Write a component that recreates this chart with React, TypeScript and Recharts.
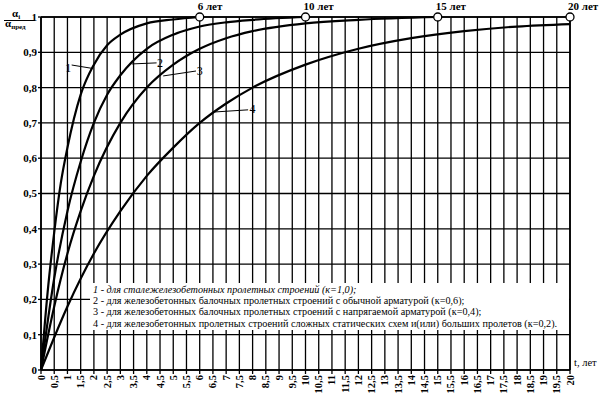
import { ComposedChart, Line, Scatter, XAxis, YAxis, CartesianGrid, ReferenceLine, ReferenceDot } from "recharts";

const SERIF = '"Liberation Serif", "Times New Roman", serif';

// curve 1 - steel-concrete spans (k=1,0)
const T1 = [0, 0.25, 0.5, 0.75, 1, 1.5, 2, 2.5, 3, 4, 5, 6];
const V1 = [0, 0.22, 0.39, 0.53, 0.63, 0.78, 0.865, 0.92, 0.95, 0.982, 0.993, 1.0];
// curve 2 - RC beam spans, ordinary reinforcement (k=0,6)
const T2 = [0, 0.5, 1, 1.5, 2, 2.5, 3, 4, 5, 6, 7, 8, 10];
const V2 = [0, 0.26, 0.45, 0.59, 0.7, 0.78, 0.835, 0.91, 0.95, 0.973, 0.985, 0.992, 1.0];
// curve 3 - RC beam spans, prestressed (k=0,4)
const T3 = [0, 0.5, 1, 1.5, 2, 3, 4, 5, 6, 7, 8, 10, 12, 15];
const V3 = [0, 0.18, 0.33, 0.45, 0.55, 0.7, 0.8, 0.865, 0.91, 0.94, 0.96, 0.982, 0.992, 1.0];
// curve 4 - complex schemes / large spans (k=0,2)
const T4 = [0, 1, 2, 3, 4, 5, 6, 7, 8, 10, 12, 14, 16, 18, 20];
const V4 = [0, 0.18, 0.33, 0.45, 0.55, 0.63, 0.7, 0.755, 0.8, 0.865, 0.91, 0.94, 0.96, 0.973, 0.98];

const MILESTONE_T = [6, 10, 15, 20];
const MILESTONE_LABELS = ["6 лет", "10 лет", "15 лет", "20 лет"];

const X_TICKS = [
  0, 0.5, 1, 1.5, 2, 2.5, 3, 3.5, 4, 4.5, 5, 5.5, 6, 6.5, 7, 7.5, 8, 8.5, 9, 9.5, 10,
  10.5, 11, 11.5, 12, 12.5, 13, 13.5, 14, 14.5, 15, 15.5, 16, 16.5, 17, 17.5, 18, 18.5, 19, 19.5, 20,
];
const Y_TICKS = [0, 0.1, 0.2, 0.3, 0.4, 0.5, 0.6, 0.7, 0.8, 0.9, 1];

// curve number labels and their leader lines (data coords)
const CURVE_NAMES = ["1", "2", "3", "4"];
const NAME_T = [1.03, 4.5, 6.0, 8.0];
const NAME_V = [0.856, 0.869, 0.847, 0.739];
const LEADER_FROM = [
  { t: 1.16, v: 0.864 },
  { t: 3.43, v: 0.867 },
  { t: 4.62, v: 0.833 },
  { t: 6.58, v: 0.731 },
];
const LEADER_TO = [
  { t: 1.97, v: 0.854 },
  { t: 4.37, v: 0.87 },
  { t: 5.86, v: 0.847 },
  { t: 7.83, v: 0.737 },
];

const LEGEND_LINES = [
  "1 - для сталежелезобетонных пролетных строений (к=1,0);",
  "2 - для железобетонных балочных пролетных строений с обычной арматурой (к=0,6);",
  "3 - для железобетонных балочных пролетных строений с напрягаемой арматурой (к=0,4);",
  "4 - для железобетонных пролетных строений сложных статических схем и(или) больших пролетов (к=0,2).",
];

const toPoints = (ts: number[], vs: number[]) => ts.map((t, i) => ({ t, v: vs[i] }));
const SERIES = [toPoints(T1, V1), toPoints(T2, V2), toPoints(T3, V3), toPoints(T4, V4)];
const MILESTONES = MILESTONE_T.map((t, i) => ({ t, v: 1, label: MILESTONE_LABELS[i] }));

const fmt = (v: number) => String(v).replace(".", ",");

function XTick(props: any) {
  const { x, y, payload } = props;
  return (
    <g transform={`translate(${x},${y})`}>
      <text
        transform="rotate(-90)"
        x={0}
        y={3.5}
        textAnchor="end"
        fontSize={10.5}
        fontWeight="bold"
        fontFamily={SERIF}
        fill="#000"
      >
        {fmt(payload.value)}
      </text>
    </g>
  );
}

function Milestone(props: any) {
  const { cx, cy, payload } = props;
  return (
    <g>
      <circle cx={cx} cy={cy} r={4} fill="#fff" stroke="#000" strokeWidth={1.3} />
      <text x={cx - 2} y={cy - 7} fontSize={11} fontWeight="bold" fontFamily={SERIF} fill="#000">
        {payload.label}
      </text>
    </g>
  );
}

export default function App() {
  return (
    <div style={{ position: "absolute", left: 0, top: 0, width: 602, height: 396, background: "#fff" }}>
      <ComposedChart width={602} height={396} margin={{ top: 17, right: 32, bottom: 0, left: 0 }}>
        <CartesianGrid stroke="#000" strokeWidth={1.3} />
        <XAxis
          type="number"
          dataKey="t"
          domain={[0, 20]}
          ticks={X_TICKS}
          interval={0}
          height={26}
          tickSize={4}
          tickMargin={1}
          tick={(p: any) => <XTick {...p} />}
          axisLine={{ stroke: "#000", strokeWidth: 1.7 }}
          tickLine={{ stroke: "#000", strokeWidth: 1.3 }}
        />
        <YAxis
          type="number"
          domain={[0, 1]}
          ticks={Y_TICKS}
          interval={0}
          width={41}
          tickSize={3}
          tickMargin={1}
          tickFormatter={fmt}
          tick={{ fill: "#000", fontSize: 11, fontWeight: "bold", fontFamily: SERIF }}
          axisLine={{ stroke: "#000", strokeWidth: 1.7 }}
          tickLine={{ stroke: "#000", strokeWidth: 1.3 }}
        />
        <ReferenceLine y={1} stroke="#000" strokeWidth={1.7} />
        <ReferenceLine x={20} stroke="#000" strokeWidth={1.7} />
        {SERIES.map((data, i) => (
          <Line
            key={i}
            data={data}
            dataKey="v"
            type="monotone"
            stroke="#000"
            strokeWidth={2.2}
            dot={false}
            isAnimationActive={false}
          />
        ))}
        {LEADER_FROM.map((a, i) => (
          <ReferenceLine
            key={`l${i}`}
            segment={[
              { x: a.t, y: a.v },
              { x: LEADER_TO[i].t, y: LEADER_TO[i].v },
            ]}
            stroke="#000"
            strokeWidth={1}
          />
        ))}
        {CURVE_NAMES.map((name, i) => (
          <ReferenceDot
            key={`n${i}`}
            x={NAME_T[i]}
            y={NAME_V[i]}
            r={0}
            shape={(p: any) => (
              <text
                x={p.cx}
                y={p.cy}
                textAnchor="middle"
                dominantBaseline="central"
                fontSize={12}
                fontFamily={SERIF}
                fill="#000"
              >
                {name}
              </text>
            )}
          />
        ))}
        <Scatter data={MILESTONES} dataKey="v" shape={(p: any) => <Milestone {...p} />} isAnimationActive={false} />
      </ComposedChart>

      <div
        style={{
          position: "absolute",
          left: 90,
          top: 283,
          width: 479,
          height: 47,
          background: "#fff",
          fontFamily: SERIF,
          fontSize: 10.2,
          lineHeight: "11.2px",
          color: "#000",
          paddingLeft: 3,
          paddingTop: 1,
          boxSizing: "border-box",
          whiteSpace: "nowrap",
        }}
      >
        {LEGEND_LINES.map((line, i) => (
          <div key={i} style={{ fontStyle: i === 0 ? "italic" : "normal" }}>
            {line}
          </div>
        ))}
      </div>

      <svg width={602} height={396} style={{ position: "absolute", left: 0, top: 0, pointerEvents: "none" }}>
        <text x={12} y={17} fontSize={11} fontWeight="bold" fontFamily={SERIF} fill="#000">
          α<tspan fontSize={7} dy={1.5}>i</tspan>
        </text>
        <line x1={4} y1={20.5} x2={35} y2={20.5} stroke="#000" strokeWidth={1} />
        <text x={5} y={27} fontSize={11} fontWeight="bold" fontFamily={SERIF} fill="#000">
          α<tspan fontSize={7} dy={1.5}>пред</tspan>
        </text>
        <text x={574} y={366} fontSize={10.5} fontFamily={SERIF} fill="#000">
          t, лет
        </text>
      </svg>
    </div>
  );
}
